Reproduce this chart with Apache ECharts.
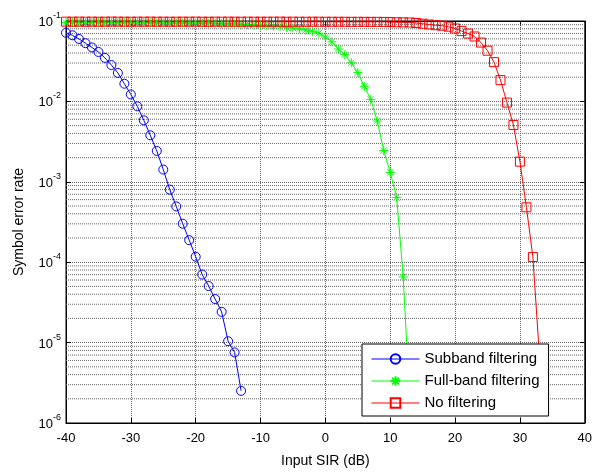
<!DOCTYPE html>
<html>
<head>
<meta charset="utf-8">
<script src="https://cdn.jsdelivr.net/npm/echarts@6/dist/echarts.min.js"></script>
<style>
  html, body { margin: 0; padding: 0; background: #fff; }
  #chart { width: 595px; height: 473px; }
</style>
</head>
<body>
<div id="chart"></div>
<script>
// Input SIR (dB) for each curve
const subbandSir = [-40, -39, -38, -37, -36, -35, -34, -33, -32, -31, -30, -29, -28, -27,
  -26, -25, -24, -23, -22, -21, -20, -19, -18, -17, -16, -15, -14, -13]
const subbandSer = [0.0714, 0.0664, 0.0598, 0.053, 0.0469, 0.0412, 0.0348, 0.0283, 0.0226, 0.0166,
  0.0122, 0.00868, 0.00582, 0.00379, 0.00242, 0.00142, 0.000799, 0.000494, 0.000301, 0.000188,
  0.000117, 7.02e-5, 5.05e-5, 3.48e-5, 2.41e-5, 1.04e-5, 7.55e-6, 2.51e-6]

const fullbandSir = [-40, -39, -38, -37, -36, -35, -34, -33, -32, -31, -30, -29, -28, -27,
  -26, -25, -24, -23, -22, -21, -20, -19, -18, -17, -16, -15, -14, -13, -12, -11, -10,
  -9, -8, -7, -6, -5, -4, -3, -2, -1, 0, 1, 2, 3, 4, 5, 6, 7, 8, 9, 10, 11, 12, 13]
const fullbandSer = [0.0956, 0.0955, 0.0957, 0.0954, 0.0956, 0.0955, 0.0953, 0.0955, 0.0954, 0.0952,
  0.0953, 0.0951, 0.0952, 0.095, 0.0949, 0.0948, 0.0947, 0.0946, 0.0946, 0.0945,
  0.0945, 0.0942, 0.094, 0.0935, 0.093, 0.0925, 0.092, 0.091, 0.0905, 0.0895, 0.0885,
  0.0875, 0.0865, 0.085, 0.0835, 0.082, 0.08, 0.0775, 0.0745, 0.0705, 0.0633,
  0.055, 0.0448, 0.0382, 0.0302, 0.0228, 0.0154, 0.01057, 0.0057, 0.00245, 0.00131,
  0.000637, 6.56e-5, 1.9e-6]

const noFilterSir = [-40, -39, -38, -37, -36, -35, -34, -33, -32, -31, -30, -29, -28, -27,
  -26, -25, -24, -23, -22, -21, -20, -19, -18, -17, -16, -15, -14, -13, -12, -11, -10,
  -9, -8, -7, -6, -5, -4, -3, -2, -1, 0, 1, 2, 3, 4, 5, 6, 7, 8, 9, 10, 11, 12, 13,
  14, 15, 16, 17, 18, 19, 20, 21, 22, 23, 24, 25, 26, 27, 28, 29, 30, 31, 32, 33]
const noFilterSer = [0.0981, 0.098, 0.0982, 0.098, 0.0981, 0.0979, 0.098, 0.0982, 0.0981, 0.098,
  0.0979, 0.0981, 0.098, 0.0982, 0.098, 0.0981, 0.0979, 0.098, 0.0981, 0.098,
  0.0982, 0.098, 0.0979, 0.0981, 0.098, 0.0981, 0.098, 0.0979, 0.0981, 0.098, 0.098,
  0.0979, 0.098, 0.0981, 0.0979, 0.098, 0.0979, 0.0978, 0.098, 0.0979, 0.0978,
  0.0978, 0.0977, 0.0978, 0.0976, 0.0977, 0.0976, 0.0975, 0.0976, 0.0974, 0.0973,
  0.0965, 0.0962, 0.0958, 0.0945, 0.0925, 0.0905, 0.0886, 0.0874, 0.085, 0.0808,
  0.0749, 0.0698, 0.0642, 0.0539, 0.0427, 0.0308, 0.0184, 0.00966, 0.00509, 0.00178,
  0.000482, 0.000116, 7e-6]

const xTicks = [-40, -30, -20, -10, 0, 10, 20, 30, 40]
const yDecades = [1e-6, 1e-5, 1e-4, 1e-3, 1e-2, 1e-1]

const FONT = 'Liberation Sans, Arial, sans-serif'

const pairs = (xs, ys) => xs.map((x, i) => [x, ys[i]])

// minor gridlines at 2..9 x 10^k (log axis)
const minorLines = []
for (let d = 0; d < yDecades.length - 1; d++) {
  for (let m = 2; m <= 9; m++) {
    minorLines.push([xTicks[0], yDecades[d] * m])
  }
}

const gridLine = { color: '#666', type: [1, 1], width: 1 }

const starPath = 'path://M5,0L5,10M0,5L10,5M1.5,1.5L8.5,8.5M1.5,8.5L8.5,1.5'

const chart = echarts.init(document.getElementById('chart'), null, { renderer: 'canvas' })

chart.setOption({
  animation: false,
  backgroundColor: '#fff',
  textStyle: { fontFamily: FONT },
  grid: {
    left: 66, right: 10, top: 21, bottom: 42,
    show: true, borderColor: '#000', borderWidth: 1
  },
  legend: {
    orient: 'vertical',
    left: 362, top: 344,
    z: 20,
    padding: [7, 9, 5, 9],
    itemGap: 6,
    itemWidth: 48, itemHeight: 12,
    backgroundColor: '#fff',
    borderColor: '#000', borderWidth: 1, borderRadius: 0,
    selectedMode: false,
    lineStyle: { width: 1 },
    textStyle: { fontFamily: FONT, fontSize: 15, lineHeight: 16, color: '#000' },
    data: ['Subband filtering', 'Full-band filtering', 'No filtering']
  },
  xAxis: [{
    type: 'value',
    min: -40, max: 40, interval: 10,
    name: 'Input SIR (dB)',
    nameLocation: 'middle',
    nameGap: 31,
    nameTextStyle: { fontFamily: FONT, fontSize: 14, color: '#000' },
    axisLine: { onZero: false, lineStyle: { color: '#000', width: 1 } },
    axisTick: { inside: true, length: 5, lineStyle: { color: '#000' } },
    axisLabel: {
      color: '#000', fontSize: 13, fontFamily: FONT, margin: 9,
      formatter: v => xTicks.includes(v) ? String(v) : ''
    },
    splitLine: { show: true, lineStyle: gridLine }
  }, {
    type: 'value', position: 'top',
    min: -40, max: 40, interval: 10,
    axisLine: { onZero: false, lineStyle: { color: '#000' } },
    axisTick: { inside: true, length: 5, lineStyle: { color: '#000' } },
    axisLabel: { show: false },
    splitLine: { show: false }
  }],
  yAxis: [{
    type: 'log', logBase: 10,
    min: 1e-6, max: 1e-1,
    name: 'Symbol error rate',
    nameLocation: 'middle',
    nameGap: 40,
    nameTextStyle: { fontFamily: FONT, fontSize: 14, color: '#000' },
    axisLine: { onZero: false, lineStyle: { color: '#000', width: 1 } },
    axisTick: { inside: true, length: 5, lineStyle: { color: '#000' } },
    axisLabel: {
      margin: 5,
      formatter: v => {
        const e = Math.round(Math.log10(v))
        return '{b|10}{s|' + e + '}'
      },
      rich: {
        b: { fontFamily: FONT, fontSize: 13, color: '#000', verticalAlign: 'bottom', lineHeight: 16 },
        s: { fontFamily: FONT, fontSize: 9, color: '#000', verticalAlign: 'bottom', lineHeight: 16, padding: [0, 0, 9, 0] }
      }
    },
    splitLine: { show: true, lineStyle: gridLine }
  }, {
    type: 'log', logBase: 10, position: 'right',
    min: 1e-6, max: 1e-1,
    axisLine: { show: true, onZero: false, lineStyle: { color: '#000' } },
    axisTick: { show: true, inside: true, length: 5, lineStyle: { color: '#000' } },
    axisLabel: { show: false },
    splitLine: { show: false }
  }],
  series: [
    {
      name: 'grid-minor',
      type: 'custom',
      z: 1,
      silent: true,
      data: minorLines,
      encode: { x: 0, y: 1 },
      renderItem: (params, api) => {
        const y = api.value(1)
        const p1 = api.coord([xTicks[0], y])
        const p2 = api.coord([xTicks[xTicks.length - 1], y])
        return {
          type: 'line',
          shape: { x1: p1[0], y1: p1[1], x2: p2[0], y2: p2[1] },
          style: { stroke: gridLine.color, lineWidth: 1, lineDash: [1, 1] }
        }
      }
    },
    {
      name: 'Subband filtering',
      type: 'line',
      z: 2,
      data: pairs(subbandSir, subbandSer),
      symbol: 'circle',
      symbolSize: 9,
      lineStyle: { color: '#0000ff', width: 1 },
      itemStyle: { color: 'rgba(0,0,0,0)', borderColor: '#0000ff', borderWidth: 1 }
    },
    {
      name: 'Full-band filtering',
      type: 'line',
      z: 2,
      data: pairs(fullbandSir, fullbandSer),
      symbol: starPath,
      symbolSize: 9,
      lineStyle: { color: '#00ff00', width: 1 },
      itemStyle: { color: 'rgba(0,0,0,0)', borderColor: '#00ff00', borderWidth: 1 }
    },
    {
      name: 'No filtering',
      type: 'line',
      z: 2,
      data: pairs(noFilterSir, noFilterSer),
      symbol: 'rect',
      symbolSize: 9,
      lineStyle: { color: '#ff0000', width: 1 },
      itemStyle: { color: 'rgba(0,0,0,0)', borderColor: '#ff0000', borderWidth: 1 }
    }
  ]
})
</script>
</body>
</html>
